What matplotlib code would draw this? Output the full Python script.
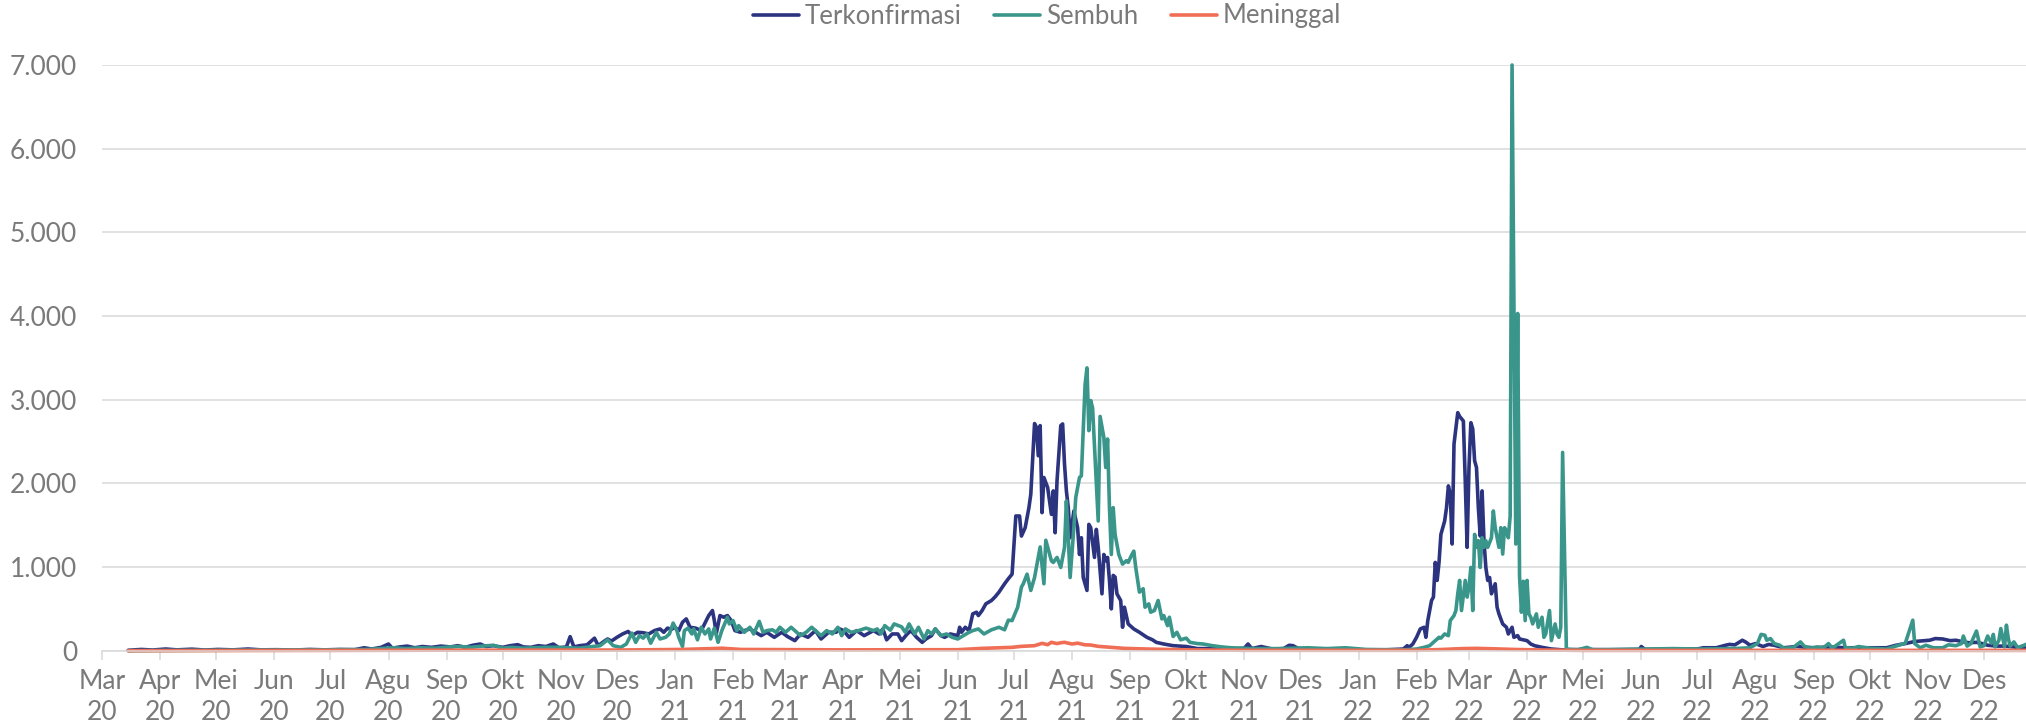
import datetime as dt
import matplotlib
matplotlib.use("Agg")
import matplotlib.pyplot as plt
import matplotlib.ticker as mticker
import pandas as pd

# daily cases (date, value)
terkonfirmasi = [
    ("2020-03-15", 5), ("2020-03-22", 15), ("2020-03-28", 8), ("2020-04-04", 20), ("2020-04-10", 10),
    ("2020-04-18", 18), ("2020-04-25", 8), ("2020-05-02", 15), ("2020-05-10", 10), ("2020-05-18", 20),
    ("2020-05-25", 10), ("2020-06-02", 12), ("2020-06-12", 8), ("2020-06-20", 15), ("2020-06-28", 10),
    ("2020-07-06", 15), ("2020-07-14", 12), ("2020-07-19", 35), ("2020-07-23", 20), ("2020-07-28", 40),
    ("2020-08-01", 80), ("2020-08-03", 30), ("2020-08-07", 45), ("2020-08-11", 55), ("2020-08-15", 35),
    ("2020-08-19", 50), ("2020-08-24", 40), ("2020-08-29", 55), ("2020-09-03", 45), ("2020-09-07", 60),
    ("2020-09-11", 40), ("2020-09-15", 65), ("2020-09-19", 80), ("2020-09-22", 50), ("2020-09-26", 60),
    ("2020-10-01", 40), ("2020-10-05", 60), ("2020-10-09", 72), ("2020-10-12", 45), ("2020-10-16", 40),
    ("2020-10-20", 60), ("2020-10-24", 50), ("2020-10-28", 80), ("2020-10-31", 35), ("2020-11-04", 45),
    ("2020-11-06", 168), ("2020-11-08", 45), ("2020-11-11", 60), ("2020-11-15", 70), ("2020-11-19", 150),
    ("2020-11-21", 60), ("2020-11-24", 110), ("2020-11-26", 140), ("2020-11-28", 115), ("2020-12-01", 160),
    ("2020-12-04", 200), ("2020-12-07", 230), ("2020-12-09", 180), ("2020-12-12", 220), ("2020-12-15", 215),
    ("2020-12-18", 200), ("2020-12-21", 240), ("2020-12-24", 260), ("2020-12-26", 220), ("2020-12-28", 270),
    ("2020-12-30", 255), ("2021-01-01", 280), ("2021-01-03", 240), ("2021-01-05", 340), ("2021-01-07", 380),
    ("2021-01-09", 280), ("2021-01-12", 270), ("2021-01-15", 240), ("2021-01-19", 420), ("2021-01-21", 480),
    ("2021-01-22", 360), ("2021-01-23", 200), ("2021-01-25", 420), ("2021-01-27", 400), ("2021-01-29", 420),
    ("2021-01-31", 360), ("2021-02-02", 240), ("2021-02-05", 220), ("2021-02-07", 240), ("2021-02-10", 260),
    ("2021-02-13", 220), ("2021-02-16", 180), ("2021-02-19", 220), ("2021-02-23", 160), ("2021-02-27", 220),
    ("2021-03-02", 170), ("2021-03-06", 120), ("2021-03-09", 200), ("2021-03-13", 160), ("2021-03-17", 240),
    ("2021-03-20", 140), ("2021-03-24", 220), ("2021-03-28", 220), ("2021-03-30", 260), ("2021-04-01", 240),
    ("2021-04-04", 160), ("2021-04-08", 240), ("2021-04-12", 180), ("2021-04-17", 240), ("2021-04-20", 200),
    ("2021-04-22", 260), ("2021-04-24", 130), ("2021-04-27", 200), ("2021-04-30", 200), ("2021-05-02", 120),
    ("2021-05-05", 200), ("2021-05-07", 240), ("2021-05-10", 160), ("2021-05-13", 100), ("2021-05-15", 140),
    ("2021-05-18", 180), ("2021-05-20", 260), ("2021-05-23", 180), ("2021-05-25", 160), ("2021-05-28", 200),
    ("2021-06-01", 180), ("2021-06-02", 280), ("2021-06-03", 220), ("2021-06-05", 280), ("2021-06-07", 240),
    ("2021-06-09", 440), ("2021-06-11", 460), ("2021-06-12", 420), ("2021-06-14", 480), ("2021-06-16", 560),
    ("2021-06-19", 600), ("2021-06-21", 645), ("2021-06-23", 700), ("2021-06-26", 800), ("2021-06-28", 860),
    ("2021-06-30", 915), ("2021-07-02", 1610), ("2021-07-04", 1610), ("2021-07-05", 1370), ("2021-07-07", 1470),
    ("2021-07-09", 1710), ("2021-07-10", 1870), ("2021-07-12", 2715), ("2021-07-13", 2670), ("2021-07-14", 2330),
    ("2021-07-15", 2690), ("2021-07-16", 1650), ("2021-07-17", 2070), ("2021-07-19", 1950), ("2021-07-21", 1630),
    ("2021-07-22", 1910), ("2021-07-23", 1410), ("2021-07-24", 2030), ("2021-07-26", 2690), ("2021-07-27", 2710),
    ("2021-07-28", 2230), ("2021-07-29", 1910), ("2021-07-30", 1710), ("2021-07-31", 1350), ("2021-08-02", 1670),
    ("2021-08-04", 1470), ("2021-08-05", 1150), ("2021-08-06", 1350), ("2021-08-07", 875), ("2021-08-09", 720),
    ("2021-08-10", 1510), ("2021-08-11", 1470), ("2021-08-13", 1115), ("2021-08-14", 1450), ("2021-08-15", 1235),
    ("2021-08-17", 680), ("2021-08-18", 1150), ("2021-08-19", 1075), ("2021-08-20", 1115), ("2021-08-21", 840),
    ("2021-08-22", 500), ("2021-08-23", 900), ("2021-08-24", 880), ("2021-08-25", 680), ("2021-08-27", 600),
    ("2021-08-28", 280), ("2021-08-29", 520), ("2021-08-31", 320), ("2021-09-03", 260), ("2021-09-06", 220),
    ("2021-09-10", 160), ("2021-09-13", 130), ("2021-09-15", 100), ("2021-09-19", 80), ("2021-09-24", 60),
    ("2021-10-01", 50), ("2021-10-07", 25), ("2021-10-15", 25), ("2021-10-25", 20), ("2021-11-01", 30),
    ("2021-11-03", 80), ("2021-11-05", 25), ("2021-11-10", 50), ("2021-11-16", 20), ("2021-11-22", 25),
    ("2021-11-25", 65), ("2021-11-27", 60), ("2021-11-30", 25), ("2021-12-10", 20), ("2021-12-20", 10),
    ("2022-01-01", 10), ("2022-01-15", 10), ("2022-01-25", 20), ("2022-01-27", 60), ("2022-01-28", 40),
    ("2022-01-30", 80), ("2022-02-01", 160), ("2022-02-03", 260), ("2022-02-05", 280), ("2022-02-06", 160),
    ("2022-02-07", 360), ("2022-02-09", 600), ("2022-02-10", 640), ("2022-02-11", 1055), ("2022-02-12", 840),
    ("2022-02-13", 1055), ("2022-02-14", 1390), ("2022-02-15", 1470), ("2022-02-16", 1550), ("2022-02-17", 1710),
    ("2022-02-18", 1970), ("2022-02-19", 1870), ("2022-02-20", 1275), ("2022-02-21", 2470), ("2022-02-23", 2845),
    ("2022-02-24", 2800), ("2022-02-26", 2745), ("2022-02-27", 2030), ("2022-02-28", 1235), ("2022-03-01", 2190),
    ("2022-03-02", 2725), ("2022-03-03", 2650), ("2022-03-04", 2270), ("2022-03-05", 2190), ("2022-03-06", 1710),
    ("2022-03-07", 1370), ("2022-03-08", 1910), ("2022-03-09", 1315), ("2022-03-10", 995), ("2022-03-11", 840),
    ("2022-03-12", 875), ("2022-03-13", 680), ("2022-03-15", 800), ("2022-03-16", 520), ("2022-03-17", 440),
    ("2022-03-19", 320), ("2022-03-21", 280), ("2022-03-22", 200), ("2022-03-24", 280), ("2022-03-25", 160),
    ("2022-03-27", 180), ("2022-03-28", 140), ("2022-04-01", 120), ("2022-04-03", 80), ("2022-04-05", 60),
    ("2022-04-09", 40), ("2022-04-14", 20), ("2022-04-20", 10), ("2022-05-01", 15), ("2022-05-15", 12),
    ("2022-05-31", 15), ("2022-06-01", 50), ("2022-06-03", 15), ("2022-06-15", 18), ("2022-07-01", 20),
    ("2022-07-04", 35), ("2022-07-11", 35), ("2022-07-16", 65), ("2022-07-18", 75), ("2022-07-21", 70),
    ("2022-07-25", 125), ("2022-07-27", 100), ("2022-07-29", 65), ("2022-08-01", 85), ("2022-08-05", 50),
    ("2022-08-08", 75), ("2022-08-11", 65), ("2022-08-16", 35), ("2022-08-23", 50), ("2022-09-01", 35),
    ("2022-09-09", 45), ("2022-09-18", 35), ("2022-10-01", 35), ("2022-10-10", 35), ("2022-10-15", 65),
    ("2022-10-20", 85), ("2022-10-25", 110), ("2022-11-02", 125), ("2022-11-05", 145), ("2022-11-09", 140),
    ("2022-11-13", 120), ("2022-11-16", 125), ("2022-11-20", 105), ("2022-11-23", 95), ("2022-11-27", 100),
    ("2022-11-30", 85), ("2022-12-03", 65), ("2022-12-08", 55), ("2022-12-12", 55), ("2022-12-17", 45),
    ("2022-12-21", 35), ("2022-12-31", 30),
]

sembuh = [
    ("2020-03-15", 0), ("2020-04-01", 3), ("2020-05-01", 5), ("2020-06-01", 8), ("2020-07-01", 10),
    ("2020-07-20", 15), ("2020-08-04", 35), ("2020-08-10", 25), ("2020-08-18", 35), ("2020-08-26", 30),
    ("2020-09-03", 45), ("2020-09-08", 50), ("2020-09-14", 40), ("2020-09-20", 55), ("2020-09-26", 65),
    ("2020-10-01", 30), ("2020-10-06", 40), ("2020-10-12", 30), ("2020-10-18", 35), ("2020-10-24", 40),
    ("2020-10-30", 40), ("2020-11-05", 35), ("2020-11-11", 30), ("2020-11-16", 45), ("2020-11-22", 60),
    ("2020-11-26", 130), ("2020-11-29", 60), ("2020-12-03", 40), ("2020-12-06", 80), ("2020-12-09", 210),
    ("2020-12-11", 100), ("2020-12-13", 180), ("2020-12-15", 150), ("2020-12-17", 200), ("2020-12-19", 90),
    ("2020-12-22", 220), ("2020-12-24", 140), ("2020-12-27", 160), ("2020-12-29", 200), ("2020-12-31", 330),
    ("2021-01-02", 240), ("2021-01-03", 160), ("2021-01-05", 50), ("2021-01-06", 240), ("2021-01-08", 270),
    ("2021-01-10", 200), ("2021-01-11", 260), ("2021-01-13", 130), ("2021-01-15", 280), ("2021-01-17", 200),
    ("2021-01-19", 260), ("2021-01-20", 140), ("2021-01-22", 270), ("2021-01-24", 100), ("2021-01-26", 240),
    ("2021-01-29", 400), ("2021-01-30", 320), ("2021-02-01", 360), ("2021-02-03", 240), ("2021-02-04", 300),
    ("2021-02-07", 220), ("2021-02-10", 280), ("2021-02-12", 200), ("2021-02-15", 350), ("2021-02-17", 220),
    ("2021-02-19", 240), ("2021-02-22", 250), ("2021-02-24", 220), ("2021-02-26", 280), ("2021-03-01", 220),
    ("2021-03-04", 280), ("2021-03-07", 220), ("2021-03-09", 180), ("2021-03-12", 220), ("2021-03-15", 280),
    ("2021-03-17", 240), ("2021-03-20", 180), ("2021-03-23", 240), ("2021-03-26", 200), ("2021-03-29", 280),
    ("2021-03-31", 180), ("2021-04-02", 260), ("2021-04-05", 220), ("2021-04-09", 240), ("2021-04-13", 270),
    ("2021-04-17", 240), ("2021-04-19", 260), ("2021-04-21", 200), ("2021-04-23", 300), ("2021-04-26", 245),
    ("2021-04-28", 320), ("2021-05-02", 285), ("2021-05-04", 220), ("2021-05-06", 320), ("2021-05-09", 200),
    ("2021-05-11", 280), ("2021-05-14", 140), ("2021-05-16", 240), ("2021-05-18", 200), ("2021-05-20", 260),
    ("2021-05-23", 180), ("2021-05-26", 200), ("2021-05-29", 160), ("2021-06-01", 140), ("2021-06-04", 180),
    ("2021-06-07", 220), ("2021-06-09", 240), ("2021-06-12", 260), ("2021-06-15", 200), ("2021-06-19", 250),
    ("2021-06-23", 280), ("2021-06-26", 250), ("2021-06-28", 365), ("2021-06-30", 360), ("2021-07-03", 520),
    ("2021-07-05", 760), ("2021-07-06", 800), ("2021-07-08", 915), ("2021-07-10", 720), ("2021-07-12", 875),
    ("2021-07-15", 1240), ("2021-07-17", 800), ("2021-07-18", 1320), ("2021-07-21", 1075), ("2021-07-22", 1055),
    ("2021-07-24", 1115), ("2021-07-26", 995), ("2021-07-28", 1235), ("2021-07-29", 1790), ("2021-07-30", 1350),
    ("2021-07-31", 875), ("2021-08-02", 1470), ("2021-08-03", 1830), ("2021-08-05", 2070), ("2021-08-06", 2090),
    ("2021-08-07", 2630), ("2021-08-08", 3185), ("2021-08-09", 3380), ("2021-08-10", 2630), ("2021-08-11", 2990),
    ("2021-08-12", 2900), ("2021-08-14", 1990), ("2021-08-15", 1550), ("2021-08-16", 2800), ("2021-08-18", 2550),
    ("2021-08-19", 2190), ("2021-08-20", 2530), ("2021-08-21", 1710), ("2021-08-22", 1150), ("2021-08-23", 1710),
    ("2021-08-24", 1390), ("2021-08-26", 1150), ("2021-08-28", 1035), ("2021-08-30", 1075), ("2021-08-31", 1055),
    ("2021-09-02", 1150), ("2021-09-03", 1190), ("2021-09-04", 1000), ("2021-09-06", 700), ("2021-09-08", 740),
    ("2021-09-09", 520), ("2021-09-11", 560), ("2021-09-12", 460), ("2021-09-14", 480), ("2021-09-16", 600),
    ("2021-09-18", 380), ("2021-09-19", 420), ("2021-09-21", 300), ("2021-09-22", 400), ("2021-09-24", 170),
    ("2021-09-26", 220), ("2021-09-28", 130), ("2021-10-01", 150), ("2021-10-03", 100), ("2021-10-07", 85),
    ("2021-10-10", 80), ("2021-10-15", 60), ("2021-10-20", 45), ("2021-10-25", 35), ("2021-11-05", 25),
    ("2021-11-20", 25), ("2021-12-05", 35), ("2021-12-15", 25), ("2021-12-25", 35), ("2022-01-05", 15),
    ("2022-01-25", 10), ("2022-02-01", 20), ("2022-02-05", 40), ("2022-02-08", 60), ("2022-02-11", 120),
    ("2022-02-13", 160), ("2022-02-14", 150), ("2022-02-16", 200), ("2022-02-18", 180), ("2022-02-19", 360),
    ("2022-02-21", 420), ("2022-02-22", 480), ("2022-02-23", 680), ("2022-02-24", 840), ("2022-02-25", 480),
    ("2022-02-27", 840), ("2022-02-28", 640), ("2022-03-01", 760), ("2022-03-02", 995), ("2022-03-03", 480),
    ("2022-03-04", 1390), ("2022-03-05", 1235), ("2022-03-06", 1315), ("2022-03-07", 995), ("2022-03-08", 1350),
    ("2022-03-09", 1235), ("2022-03-10", 1315), ("2022-03-11", 1235), ("2022-03-13", 1350), ("2022-03-14", 1670),
    ("2022-03-15", 1470), ("2022-03-17", 1235), ("2022-03-18", 1470), ("2022-03-19", 1155), ("2022-03-20", 1470),
    ("2022-03-21", 1430), ("2022-03-22", 1350), ("2022-03-23", 1610), ("2022-03-24", 7000), ("2022-03-26", 1275),
    ("2022-03-27", 4030), ("2022-03-28", 890), ("2022-03-29", 460), ("2022-03-30", 830), ("2022-03-31", 360),
    ("2022-04-01", 840), ("2022-04-02", 440), ("2022-04-03", 400), ("2022-04-04", 320), ("2022-04-06", 440),
    ("2022-04-07", 280), ("2022-04-09", 400), ("2022-04-10", 160), ("2022-04-11", 200), ("2022-04-13", 480),
    ("2022-04-14", 120), ("2022-04-16", 320), ("2022-04-17", 200), ("2022-04-18", 160), ("2022-04-19", 280),
    ("2022-04-20", 2370), ("2022-04-22", 20), ("2022-04-28", 10), ("2022-05-03", 40), ("2022-05-06", 10),
    ("2022-05-20", 15), ("2022-06-01", 20), ("2022-06-18", 25), ("2022-07-01", 20), ("2022-07-20", 25),
    ("2022-07-29", 35), ("2022-08-02", 85), ("2022-08-04", 195), ("2022-08-06", 185), ("2022-08-07", 125),
    ("2022-08-09", 145), ("2022-08-11", 85), ("2022-08-14", 65), ("2022-08-16", 30), ("2022-08-21", 35),
    ("2022-08-25", 105), ("2022-08-27", 55), ("2022-08-30", 30), ("2022-09-03", 45), ("2022-09-06", 30),
    ("2022-09-09", 85), ("2022-09-11", 30), ("2022-09-17", 125), ("2022-09-18", 35), ("2022-09-22", 30),
    ("2022-09-25", 50), ("2022-10-01", 30), ("2022-10-10", 20), ("2022-10-20", 90), ("2022-10-24", 365),
    ("2022-10-25", 85), ("2022-10-28", 35), ("2022-10-31", 65), ("2022-11-04", 35), ("2022-11-09", 35),
    ("2022-11-12", 70), ("2022-11-16", 60), ("2022-11-19", 85), ("2022-11-20", 175), ("2022-11-22", 55),
    ("2022-11-24", 85), ("2022-11-27", 235), ("2022-11-29", 45), ("2022-12-01", 60), ("2022-12-03", 175),
    ("2022-12-05", 90), ("2022-12-06", 195), ("2022-12-07", 45), ("2022-12-09", 125), ("2022-12-10", 265),
    ("2022-12-12", 45), ("2022-12-13", 305), ("2022-12-14", 145), ("2022-12-15", 55), ("2022-12-17", 105),
    ("2022-12-19", 35), ("2022-12-24", 80), ("2022-12-31", 30),
]

meninggal = [
    ("2020-03-15", 0), ("2020-06-01", 3), ("2020-09-01", 6), ("2020-12-01", 8), ("2021-01-05", 15),
    ("2021-01-20", 25), ("2021-01-26", 30), ("2021-02-05", 15), ("2021-04-01", 10), ("2021-06-01", 12),
    ("2021-06-14", 28), ("2021-06-30", 40), ("2021-07-05", 52), ("2021-07-12", 60), ("2021-07-16", 88),
    ("2021-07-19", 72), ("2021-07-21", 100), ("2021-07-24", 85), ("2021-07-26", 95), ("2021-07-28", 100),
    ("2021-08-01", 80), ("2021-08-04", 90), ("2021-08-08", 70), ("2021-08-11", 68), ("2021-08-15", 52),
    ("2021-08-22", 40), ("2021-08-29", 28), ("2021-09-10", 20), ("2021-10-01", 10), ("2021-11-01", 5),
    ("2022-02-01", 5), ("2022-02-15", 15), ("2022-02-25", 25), ("2022-03-05", 28), ("2022-03-15", 22),
    ("2022-03-25", 15), ("2022-04-10", 8), ("2022-05-01", 4), ("2022-12-31", 4),
]

bulan = ["Jan", "Feb", "Mar", "Apr", "Mei", "Jun", "Jul", "Agu", "Sep", "Okt", "Nov", "Des"]

plt.rcParams['font.family'] = ['Lato', 'DejaVu Sans']
grey_txt = '#7a7a7a'
grid_col = '#d9d9d9'
fsize = 19

W, H = 2026, 726
fig = plt.figure(figsize=(W / 100, H / 100), dpi=100)
# plot area in pixels: x 102 -> 2042 (Mar 2020 -> Jan 2023), y 650.7 (0) -> 65 (7000)
ax = fig.add_axes([102 / W, (H - 650.7) / H, 1940 / W, (650.7 - 65) / H])

series = [
    (terkonfirmasi, '#2c3480', 'Terkonfirmasi'),
    (sembuh, '#3a968a', 'Sembuh'),
    (meninggal, '#ef6e55', 'Meninggal'),
]
for data, col, name in series:
    d = pd.to_datetime([p[0] for p in data])
    v = [p[1] for p in data]
    ax.plot(d, v, color=col, lw=2.6, label=name, clip_on=False,
            solid_joinstyle='round', solid_capstyle='round')

ax.set_xlim(dt.date(2020, 3, 1), dt.date(2023, 1, 1))
ax.set_ylim(0, 7000)
ax.set_yticks(range(0, 7001, 1000))
ax.yaxis.set_major_formatter(mticker.FuncFormatter(lambda v, p: f"{int(v):,}".replace(",", ".")))

xt = pd.date_range("2020-03-01", "2022-12-01", freq="MS")
ax.set_xticks(xt)
ax.set_xticklabels([f"{bulan[t.month - 1]}\n{t.year % 100}" for t in xt])
for lbl in ax.get_xticklabels():
    lbl.set_linespacing(1.3)

ax.grid(axis='y', color=grid_col, lw=1.1)
ax.grid(axis='x', visible=False)
ax.set_axisbelow(True)
for s in ['top', 'right', 'left']:
    ax.spines[s].set_visible(False)
ax.spines['bottom'].set_color(grid_col)
ax.spines['bottom'].set_linewidth(1.1)
ax.tick_params(axis='x', direction='out', length=6.5, width=1.1, color=grid_col,
               labelsize=fsize, labelcolor=grey_txt, pad=7)
ax.tick_params(axis='y', length=0, labelsize=fsize, labelcolor=grey_txt, pad=18)

fig.legend(loc='center', bbox_to_anchor=(1047 / W, 1 - 16 / H), ncol=3, frameon=False,
           fontsize=18.5, handlelength=1.8, handletextpad=0.23, columnspacing=1.25,
           labelcolor=grey_txt)

fig.savefig('out.png', dpi=100)
